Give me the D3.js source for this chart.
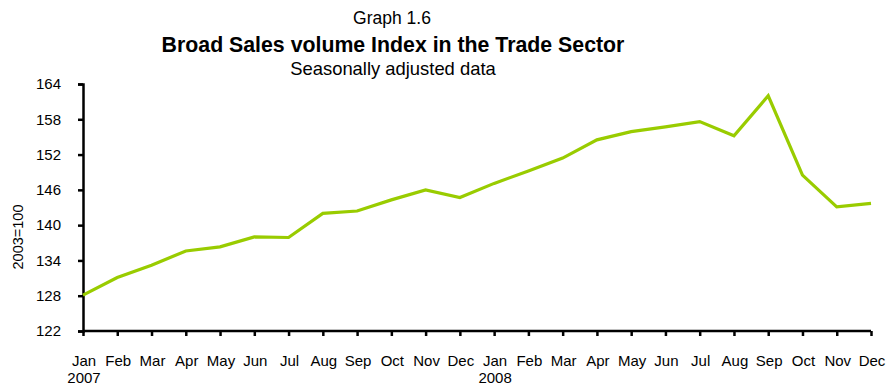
<!DOCTYPE html>
<html>
<head>
<meta charset="utf-8">
<script src="https://cdn.jsdelivr.net/npm/d3@7"></script>
<style>
  body { margin: 0; background: #fff; }
  svg { display: block; font-family: "Liberation Sans", Arial, sans-serif; }
</style>
</head>
<body>
<svg id="chart" width="886" height="386"></svg>
<script>
// Monthly labels, Jan 2007 – Dec 2008
const months = ["Jan","Feb","Mar","Apr","May","Jun","Jul","Aug","Sep","Oct","Nov","Dec",
                "Jan","Feb","Mar","Apr","May","Jun","Jul","Aug","Sep","Oct","Nov","Dec"];
const years = ["2007","","","","","","","","","","","","2008","","","","","","","","","","",""];
// Broad sales volume index, seasonally adjusted (2003=100)
const salesIndex = [128.1, 131.1, 133.2, 135.6, 136.3, 138.0, 137.9, 142.0, 142.4, 144.3, 146.0, 144.7,
                    147.1, 149.2, 151.4, 154.5, 155.9, 156.7, 157.6, 155.2, 162.0, 148.5, 143.1, 143.7];
const yTicks = [122, 128, 134, 140, 146, 152, 158, 164];

const svg = d3.select("#chart");
const plotLeft = 83, plotRight = 871, plotTop = 84, plotBottom = 331;
const idx = d3.range(months.length);

const x = d3.scalePoint().domain(idx).range([plotLeft, plotRight]);
const y = d3.scaleLinear().domain([122, 164]).range([plotBottom, plotTop]);

// Titles
svg.append("text").attr("x", 392).attr("y", 24).attr("text-anchor", "middle")
  .style("font-size", "17.5px").text("Graph 1.6");
svg.append("text").attr("x", 393).attr("y", 52).attr("text-anchor", "middle")
  .style("font-size", "21.3px").style("font-weight", "bold")
  .text("Broad Sales volume Index in the Trade Sector");
svg.append("text").attr("x", 393).attr("y", 75).attr("text-anchor", "middle")
  .style("font-size", "18.4px").text("Seasonally adjusted data");

// Y axis
const yAxis = svg.append("g").attr("transform", `translate(${plotLeft},0)`)
  .call(d3.axisLeft(y).tickValues(yTicks).tickSize(5).tickPadding(17).tickFormat(d3.format("d")));
yAxis.select(".domain").attr("stroke", "#000").attr("stroke-width", 2.5);
yAxis.selectAll(".tick line").attr("stroke", "#000").attr("stroke-width", 2.5);
yAxis.selectAll(".tick text").style("font-size", "15px").attr("fill", "#000")
  .style("font-family", "Liberation Sans, Arial, sans-serif");

svg.append("text").attr("transform", `translate(23,237) rotate(-90)`)
  .attr("text-anchor", "middle").style("font-size", "14.5px").text("2003=100");

// X axis
const xAxis = svg.append("g").attr("transform", `translate(0,${plotBottom})`)
  .call(d3.axisBottom(x).tickSize(5).tickSizeOuter(0).tickFormat(() => ""));
xAxis.select(".domain").attr("stroke", "#000").attr("stroke-width", 2.5)
  .attr("d", `M${plotLeft},0H${plotRight}`);
xAxis.selectAll(".tick line").attr("stroke", "#000").attr("stroke-width", 2.5);

const xl = svg.append("g");
xl.selectAll("text.m").data(idx).join("text").attr("class", "m")
  .attr("x", d => x(d) + 1).attr("y", plotBottom + 35).attr("text-anchor", "middle")
  .style("font-size", "15px").text(d => months[d]);
xl.selectAll("text.yr").data(idx.filter(i => years[i])).join("text").attr("class", "yr")
  .attr("x", d => x(d) + 1).attr("y", plotBottom + 52).attr("text-anchor", "middle")
  .style("font-size", "15px").text(d => years[d]);

// Series line
const line = d3.line().x((d, i) => x(i)).y(d => y(d));
svg.append("path").datum(salesIndex).attr("d", line)
  .attr("fill", "none").attr("stroke", "#99cc00").attr("stroke-width", 3.2)
  .attr("stroke-linejoin", "miter");
</script>
</body>
</html>
